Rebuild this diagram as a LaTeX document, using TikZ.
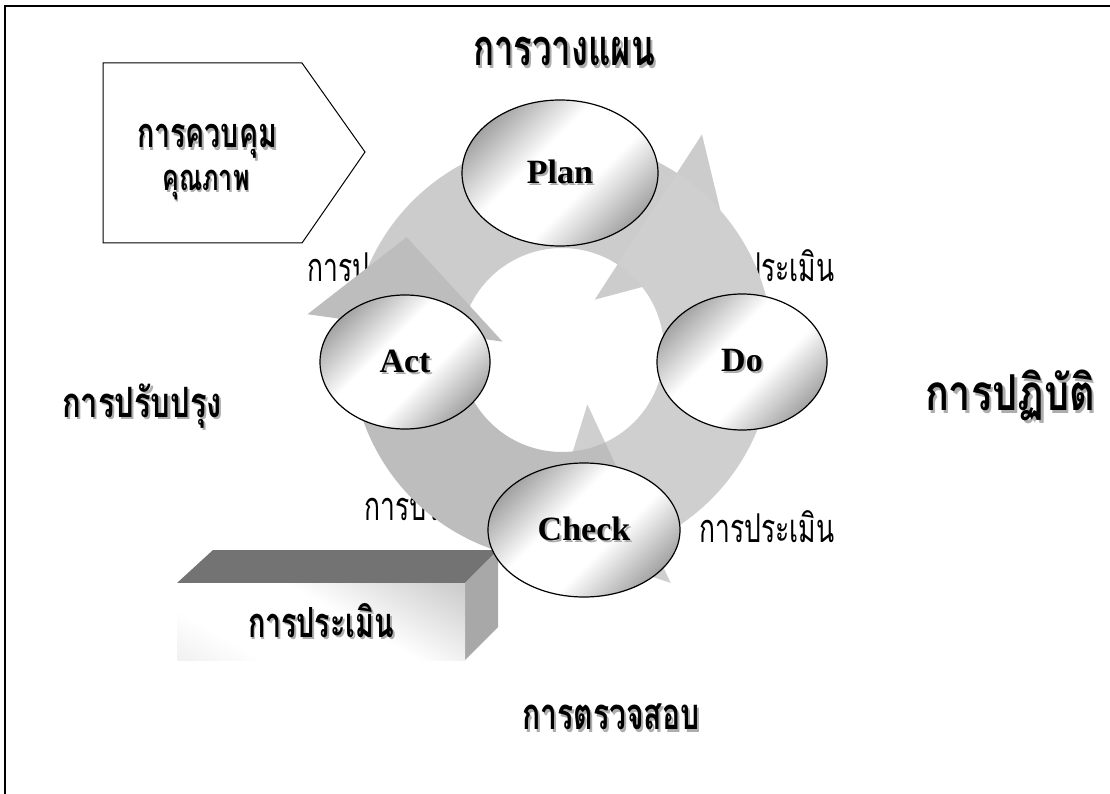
\documentclass[tikz,border=0pt]{standalone}
\usepackage{fontspec}
\usepackage{graphicx}
\setmainfont{Liberation Serif}
\newfontfamily\thai[Script=Thai]{Loma}
\usetikzlibrary{shapes.geometric,calc}
\newcommand{\shad}[2][2pt]{\leavevmode\rlap{\hspace{#1}\raisebox{-#1}{\textcolor{black!32}{#2}}}#2}
% width-fitted, vertically stretched Thai text
\newcommand{\thw}[3][1.45]{\scalebox{1}[#1]{\resizebox{#2}{!}{#3}}}
\newcommand{\ringarrow}[4]{%
  \fill[#1] ($(C)+(#2:211)$) arc[start angle=#2,end angle=#3,radius=211]
    -- ($(C)+(#3:257)$) -- ($(C)+(#4:192)$) -- ($(C)+(#3:60)$)
    -- ($(C)+(#3:102)$) arc[start angle=#3,end angle=#2,radius=102] -- cycle;}
\pgfdeclareverticalshading{ellshade}{100bp}{color(0bp)=(black!60); color(22bp)=(black!42); color(42bp)=(white); color(58bp)=(white); color(78bp)=(black!42); color(100bp)=(black!62)}
\pgfdeclareverticalshading{boxshade}{100bp}{color(0bp)=(black!12); color(30bp)=(white); color(55bp)=(white); color(80bp)=(black!18); color(100bp)=(black!28)}
\tikzset{
  pdca/.style={ellipse, draw=black, line width=1.2pt,
    shading=ellshade, shading angle=45,
    font=\bfseries\fontsize{34}{36}\selectfont, inner sep=0pt},
  heading/.style={inner sep=0pt},
  lbl/.style={inner sep=0pt},
}
\begin{document}
\begin{tikzpicture}[x=1pt,y=1pt,yscale=-1]
\useasboundingbox (0,0) rectangle (1110,794);
\fill[white] (0,0) rectangle (1110,794);
% frame
\draw[line width=2pt] (5,794) -- (5,6) -- (1110,6);

% labels hidden partly behind the ring
\node[lbl] (l1) at (375,266) {\thw[1.5]{135pt}{\thai\fontsize{24}{26}\selectfont การประเมิน}};
\node[lbl] (l2) at (767,266) {\thw[1.5]{135pt}{\thai\fontsize{24}{26}\selectfont การประเมิน}};
\node[lbl] (l3) at (432,505) {\thw[1.5]{135pt}{\thai\fontsize{24}{26}\selectfont การประเมิน}};
\node[lbl] (l4) at (767,527) {\thw[1.5]{135pt}{\thai\fontsize{24}{26}\selectfont การประเมิน}};

% cycle ring
\coordinate (C) at (562,350);
\ringarrow{black!20}{-172}{-57}{-27}
\ringarrow{black!19}{-57}{65}{95}
\ringarrow{black!26}{65}{188}{216}

% 3D box
\fill[black!55] (177,583) -- (465,583) -- (498,550) -- (213,550) -- cycle;
\fill[black!34] (465,583) -- (498,550) -- (498,627) -- (465,660) -- cycle;
\node[inner sep=0pt, minimum width=288pt, minimum height=77pt,
  shading=boxshade, shading angle=-30]
  (box) at (321,621.5) {\thw{146pt}{\thai\bfseries\fontsize{30}{32}\selectfont\shad{การประเมิน}}};

% pentagon
\draw[line width=1pt, fill=white] (103,63) -- (302,63) -- (365,152) -- (302,243) -- (103,243) -- cycle;
\node[heading] (qc1) at (207,143) {\thw{140pt}{\thai\bfseries\fontsize{30}{32}\selectfont\shad{การควบคุม}}};
\node[heading] (qc2) at (206,186) {\thw{87pt}{\thai\bfseries\fontsize{30}{32}\selectfont\shad{คุณภาพ}}};

% ellipses
\node[pdca, minimum width=196pt, minimum height=146pt] (plan) at (560,173) {\shad{Plan}};
\node[pdca, minimum width=170pt, minimum height=136pt] (do) at (742,362) {\shad{Do}};
\node[pdca, minimum width=192pt, minimum height=134pt] (check) at (584,530) {\shad{Check}};
\node[pdca, minimum width=170pt, minimum height=134pt] (act) at (405,362) {\shad{Act}};

% headings
\node[heading] (h1) at (564,53) {\thw{182pt}{\thai\bfseries\fontsize{30}{32}\selectfont\shad{การวางแผน}}};
\node[heading] (h2) at (1010,397) {\thw[1.25]{170pt}{\thai\bfseries\fontsize{30}{32}\selectfont\shad{การปฏิบัติ}}};
\node[heading] (h3) at (142,407) {\thw[1.35]{160pt}{\thai\bfseries\fontsize{30}{32}\selectfont\shad{การปรับปรุง}}};
\node[heading] (h4) at (611,718) {\thw{177pt}{\thai\bfseries\fontsize{30}{32}\selectfont\shad{การตรวจสอบ}}};
\end{tikzpicture}
\end{document}
